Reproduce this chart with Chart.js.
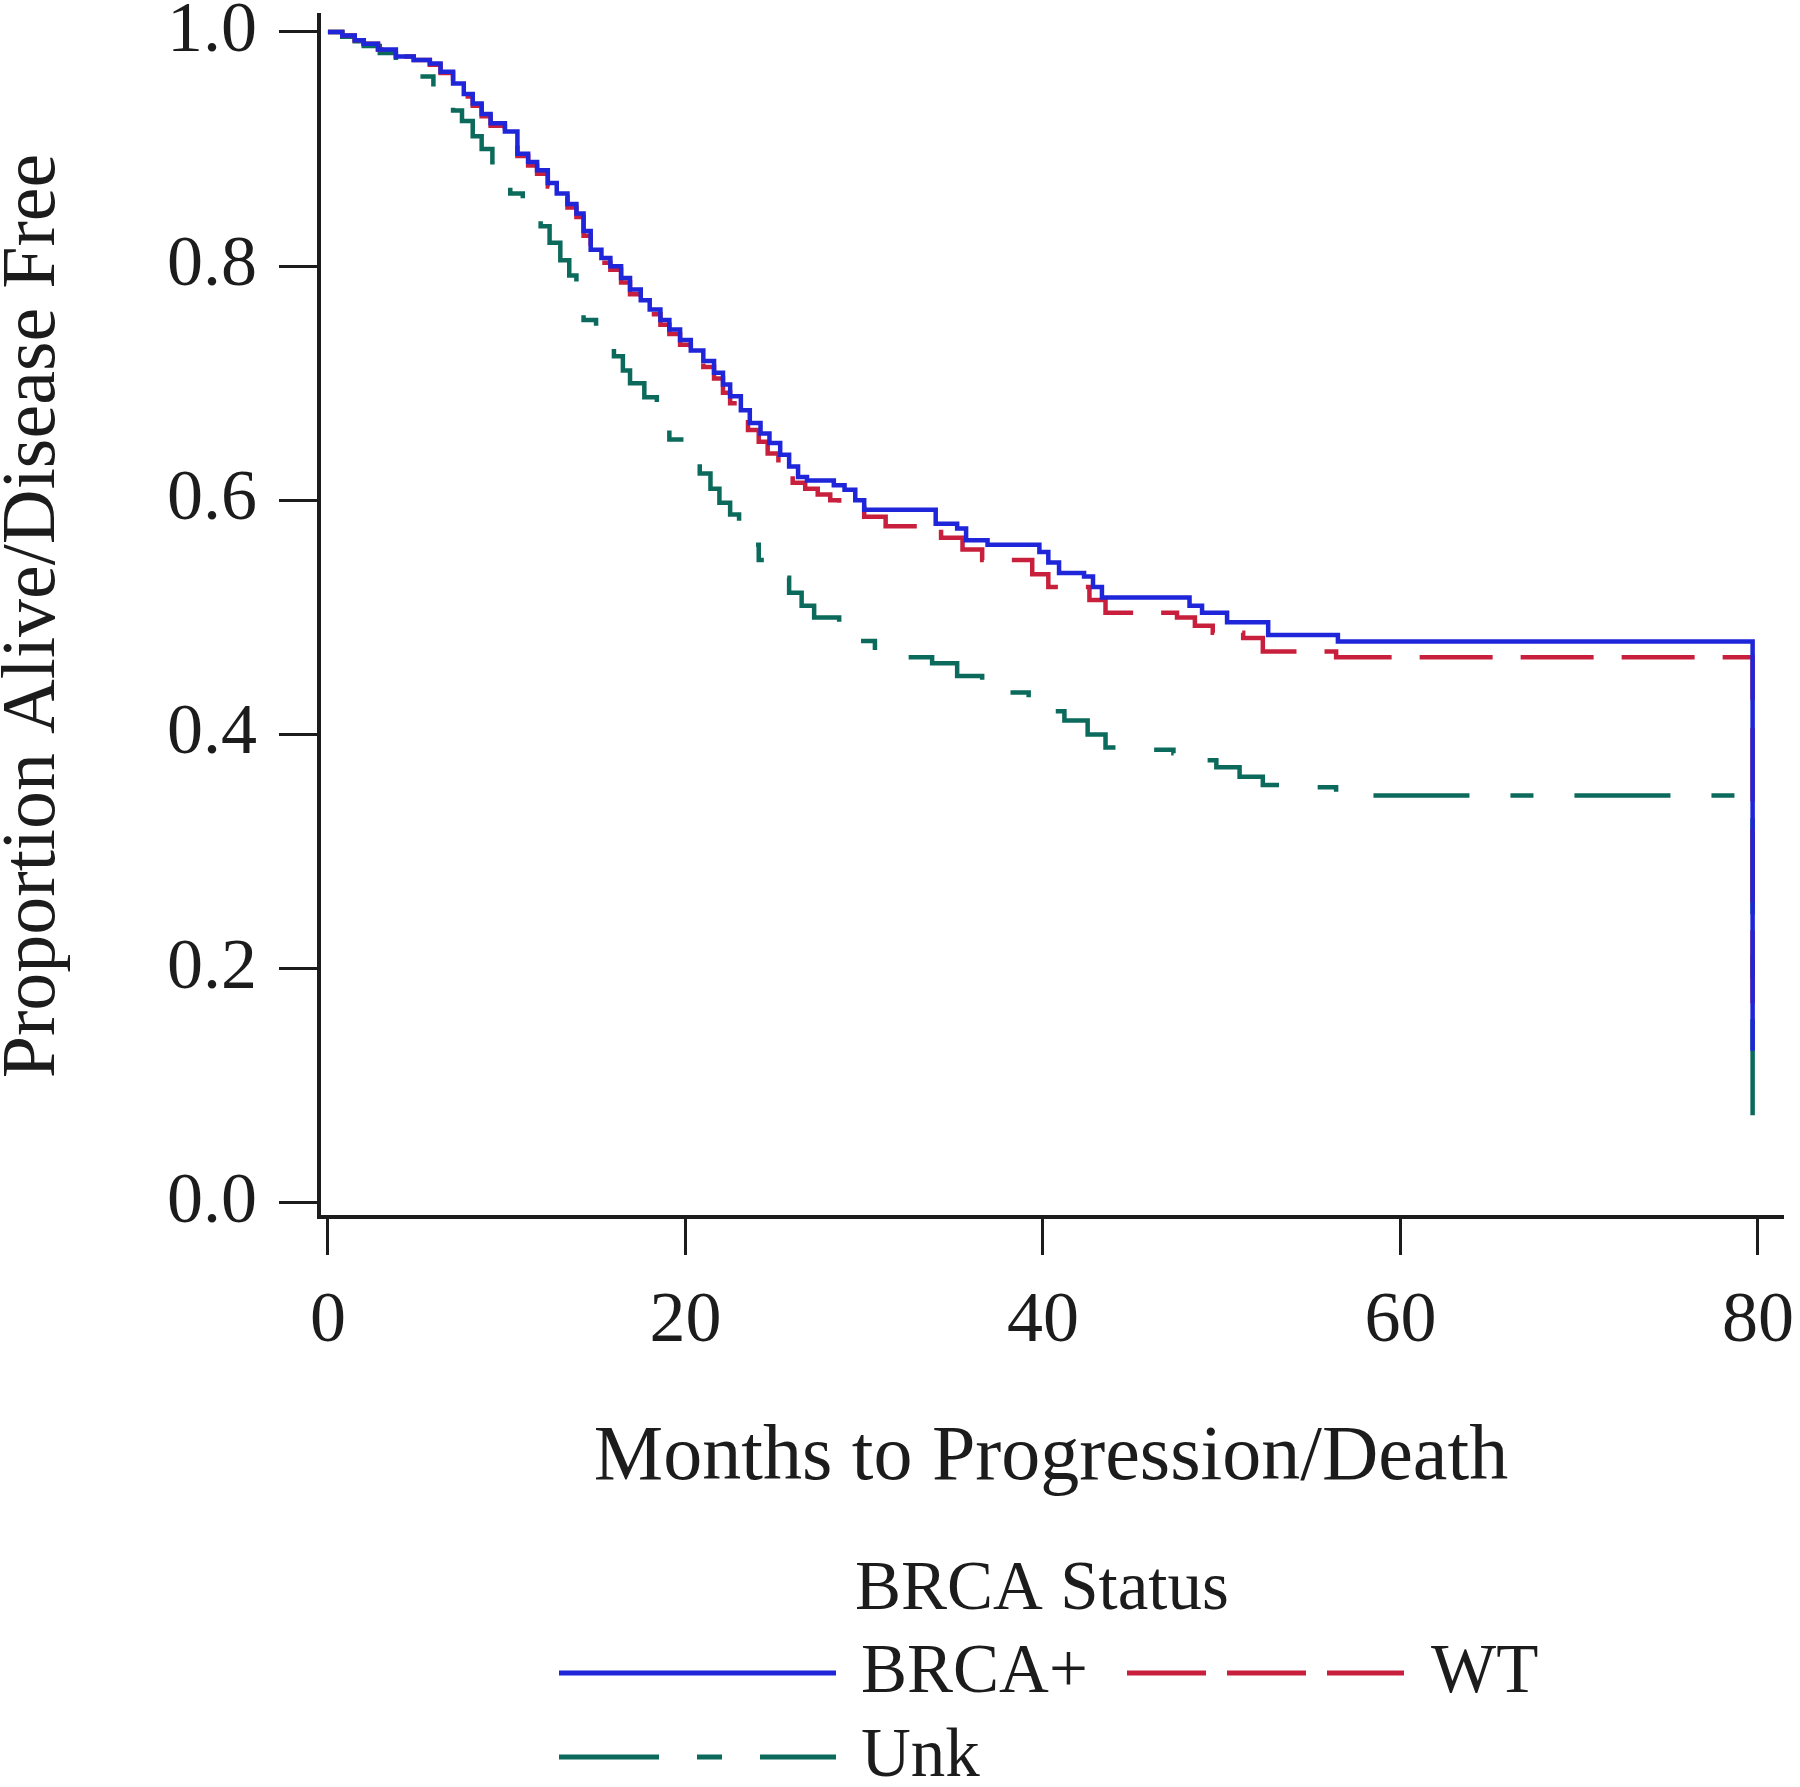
<!DOCTYPE html>
<html>
<head>
<meta charset="utf-8">
<script src="https://cdn.jsdelivr.net/npm/chart.js@4.4.1/dist/chart.umd.min.js"></script>
<style>
  html, body { margin: 0; padding: 0; background: #fff; }
  canvas { display: block; }
</style>
</head>
<body>
<canvas id="kmChart" width="1800" height="1787"></canvas>
<script>
// Kaplan-Meier steps: month of each drop and the proportion after it
const brcaMonths = [0, 0.8, 1.5, 2.0, 2.8, 3.8, 4.8, 5.7, 6.3, 7.0, 7.6, 8.1, 8.6, 9.1, 9.9, 10.6, 11.2, 11.7, 12.3, 12.8, 13.4, 13.9, 14.3, 14.7, 15.3, 15.8, 16.4, 16.9, 17.5, 18.0, 18.6, 19.1, 19.7, 20.3, 21.0, 21.6, 22.1, 22.5, 23.1, 23.6, 24.2, 24.7, 25.3, 25.8, 26.3, 26.8, 28.3, 28.9, 29.5, 30.0, 34.0, 35.2, 35.7, 36.9, 39.8, 40.3, 40.9, 42.3, 42.8, 43.3, 48.2, 48.9, 50.3, 52.6, 56.5, 79.7];
const brcaSurv   = [1.0, 0.997, 0.993, 0.99, 0.985, 0.979, 0.976, 0.973, 0.966, 0.956, 0.947, 0.939, 0.93, 0.922, 0.915, 0.896, 0.889, 0.882, 0.871, 0.862, 0.853, 0.845, 0.83, 0.814, 0.807, 0.80, 0.79, 0.78, 0.771, 0.763, 0.754, 0.746, 0.737, 0.728, 0.719, 0.709, 0.699, 0.689, 0.677, 0.666, 0.657, 0.649, 0.639, 0.629, 0.62, 0.617, 0.613, 0.609, 0.60, 0.592, 0.58, 0.576, 0.566, 0.562, 0.556, 0.547, 0.538, 0.535, 0.526, 0.517, 0.51, 0.504, 0.496, 0.485, 0.4795, 0.13];

const wtMonths = [0, 0.8, 1.5, 2.0, 2.8, 3.8, 4.8, 5.7, 6.3, 7.0, 7.6, 8.1, 8.6, 9.1, 9.9, 10.6, 11.2, 11.7, 12.3, 12.8, 13.4, 13.9, 14.3, 14.7, 15.3, 15.8, 16.4, 16.9, 17.5, 18.0, 18.6, 19.1, 19.7, 20.3, 21.0, 21.6, 22.1, 22.5, 23.1, 23.5, 24.1, 24.6, 25.2, 26.0, 26.7, 27.4, 28.1, 28.6, 30.0, 31.2, 34.3, 35.5, 36.6, 39.4, 40.3, 42.6, 43.5, 47.5, 48.5, 49.5, 51.2, 52.3, 56.4, 79.7];
const wtSurv   = [1.0, 0.997, 0.993, 0.99, 0.985, 0.979, 0.976, 0.972, 0.965, 0.955, 0.945, 0.937, 0.928, 0.92, 0.912, 0.894, 0.886, 0.879, 0.868, 0.859, 0.85, 0.842, 0.826, 0.81, 0.803, 0.797, 0.786, 0.776, 0.767, 0.759, 0.75, 0.742, 0.733, 0.724, 0.714, 0.704, 0.692, 0.683, 0.671, 0.66, 0.65, 0.64, 0.629, 0.615, 0.61, 0.605, 0.60, 0.596, 0.586, 0.578, 0.568, 0.558, 0.549, 0.537, 0.526, 0.515, 0.504, 0.5, 0.493, 0.487, 0.4825, 0.471, 0.466, 0.17];

const unkMonths = [0, 0.8, 1.5, 2.0, 2.9, 3.8, 5.0, 5.3, 5.9, 6.5, 7.0, 7.5, 8.1, 8.6, 9.2, 9.7, 10.2, 10.9, 11.4, 11.9, 12.4, 13.0, 13.5, 13.9, 14.3, 15.0, 15.5, 16.0, 16.5, 16.9, 17.7, 18.4, 19.1, 19.9, 20.8, 21.4, 21.9, 22.5, 23.0, 23.5, 24.1, 25.0, 25.8, 26.5, 27.2, 28.6, 29.6, 30.6, 32.0, 33.8, 35.2, 36.6, 37.5, 39.2, 40.3, 41.2, 42.5, 43.5, 44.6, 47.3, 48.5, 49.7, 51.0, 52.3, 53.8, 56.4, 57.0, 79.7];
const unkSurv   = [1.0, 0.996, 0.992, 0.988, 0.982, 0.976, 0.972, 0.962, 0.95, 0.942, 0.933, 0.924, 0.911, 0.90, 0.885, 0.872, 0.862, 0.854, 0.844, 0.834, 0.82, 0.805, 0.792, 0.78, 0.754, 0.743, 0.733, 0.723, 0.711, 0.70, 0.688, 0.677, 0.652, 0.643, 0.623, 0.61, 0.598, 0.588, 0.578, 0.562, 0.549, 0.534, 0.521, 0.51, 0.50, 0.489, 0.48, 0.472, 0.466, 0.461, 0.45, 0.44, 0.436, 0.431, 0.42, 0.412, 0.40, 0.389, 0.387, 0.384, 0.378, 0.372, 0.364, 0.357, 0.355, 0.35, 0.348, 0.05];

const seriesNames = ['BRCA+', 'WT', 'Unk'];
const xTickValues = [0, 20, 40, 60, 80];
const yTickValues = [0, 0.2, 0.4, 0.6, 0.8, 1.0];
const xTitle = 'Months to Progression/Death';
const yTitle = 'Proportion Alive/Disease Free';
const legendTitle = 'BRCA Status';

const SERIF = '"Liberation Serif", "Times New Roman", serif';
const INK = '#1c1c1c';
const colors = ['#1f25d8', '#c8203c', '#0b6a5b'];
const chartDash = [[], [73, 28], [96, 41, 23, 41]];
const legendDash = [[], [79, 21], [100, 38, 25, 38]];

function toPoints(months, surv) {
  return months.map((m, i) => ({ x: m, y: surv[i] }));
}

// legend laid out the way the figure has it: title, then two rows
const legendPlugin = {
  id: 'brcaLegend',
  afterDraw(chart) {
    const ctx = chart.ctx;
    ctx.save();
    ctx.font = '69px ' + SERIF;
    ctx.fillStyle = INK;
    ctx.textBaseline = 'middle';
    ctx.textAlign = 'left';
    ctx.fillText(legendTitle, 855, 1591);

    const rows = [
      { x1: 559, x2: 836, y: 1673, tx: 861 },
      { x1: 1127, x2: 1404, y: 1673, tx: 1431 },
      { x1: 559, x2: 836, y: 1757, tx: 861 }
    ];
    rows.forEach((r, i) => {
      ctx.beginPath();
      ctx.setLineDash(legendDash[i]);
      ctx.strokeStyle = colors[i];
      ctx.lineWidth = 5;
      ctx.moveTo(r.x1, r.y);
      ctx.lineTo(r.x2, r.y);
      ctx.stroke();
      ctx.setLineDash([]);
      ctx.fillText(seriesNames[i], r.tx, r.y + 1);
    });
    ctx.restore();
  }
};

const ctx = document.getElementById('kmChart').getContext('2d');
new Chart(ctx, {
  type: 'line',
  data: {
    datasets: [
      { label: seriesNames[0], data: toPoints(brcaMonths, brcaSurv) },
      { label: seriesNames[1], data: toPoints(wtMonths, wtSurv) },
      { label: seriesNames[2], data: toPoints(unkMonths, unkSurv) }
    ].map((ds, i) => Object.assign(ds, {
      borderColor: colors[i],
      borderWidth: 4.5,
      borderDash: chartDash[i],
      stepped: true,
      pointRadius: 0,
      fill: false
    }))
  },
  options: {
    responsive: false,
    animation: false,
    devicePixelRatio: 1,
    layout: { padding: { top: 15, right: 17, bottom: 282, left: 0 } },
    plugins: {
      legend: { display: false },
      tooltip: { enabled: false }
    },
    scales: {
      x: {
        type: 'linear',
        min: -0.5,
        max: 81.4,
        afterBuildTicks: s => { s.ticks = xTickValues.map(v => ({ value: v })); },
        afterFit: s => { s.height = 288; s.paddingLeft = 0; s.paddingRight = 0; },
        ticks: {
          padding: 24,
          color: INK,
          font: { family: SERIF, size: 72, lineHeight: 1.2 },
          callback: v => String(v)
        },
        grid: { drawOnChartArea: false, drawTicks: true, tickLength: 38, tickWidth: 3, tickColor: INK },
        border: { display: true, width: 4, color: INK },
        title: {
          display: true,
          text: xTitle,
          color: INK,
          padding: 0,
          font: { family: SERIF, size: 78, lineHeight: 1.2 }
        }
      },
      y: {
        type: 'linear',
        min: -0.012,
        max: 1.0145,
        afterBuildTicks: s => { s.ticks = yTickValues.map(v => ({ value: v })); },
        afterFit: s => { s.width = 319; s.paddingTop = 0; s.paddingBottom = 0; },
        ticks: {
          padding: 22,
          color: INK,
          font: { family: SERIF, size: 72, lineHeight: 1.2 },
          callback: v => v.toFixed(1)
        },
        grid: { drawOnChartArea: false, drawTicks: true, tickLength: 40, tickWidth: 3, tickColor: INK },
        border: { display: true, width: 4, color: INK },
        title: {
          display: true,
          text: yTitle,
          color: INK,
          padding: 0,
          font: { family: SERIF, size: 76, lineHeight: 0.9 }
        }
      }
    }
  },
  plugins: [legendPlugin]
});
</script>
</body>
</html>
